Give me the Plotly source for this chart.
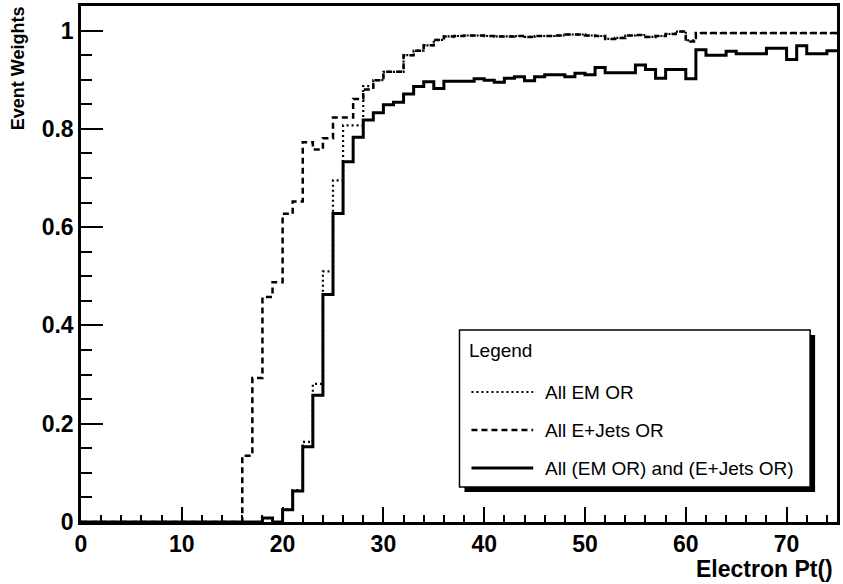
import plotly.graph_objects as go

# ---------------- data ----------------
pt_edges = list(range(0, 76))  # 1 GeV bins from 0 to 75

em_or = [0, 0, 0, 0, 0, 0, 0, 0, 0, 0,
         0, 0, 0, 0, 0, 0, 0, 0, 0.008, 0,
         0.025, 0.065, 0.163, 0.281, 0.510, 0.695, 0.807, 0.807, 0.887, 0.899,
         0.916, 0.916, 0.950, 0.959, 0.970, 0.981, 0.988, 0.989, 0.990, 0.990,
         0.989, 0.988, 0.988, 0.989, 0.987, 0.989, 0.989, 0.990, 0.992, 0.992,
         0.990, 0.989, 0.983, 0.985, 0.990, 0.991, 0.987, 0.989, 0.993, 0.998,
         0.980, 0.995, 0.995, 0.995, 0.995, 0.995, 0.995, 0.995, 0.995, 0.995,
         0.995, 0.995, 0.995, 0.995, 0.995]

ejets_or = [0, 0, 0, 0, 0, 0, 0, 0, 0, 0,
            0, 0, 0, 0, 0, 0, 0.135, 0.293, 0.458, 0.488,
            0.627, 0.652, 0.773, 0.758, 0.781, 0.823, 0.823, 0.861, 0.880, 0.899,
            0.916, 0.916, 0.950, 0.959, 0.970, 0.981, 0.988, 0.989, 0.990, 0.990,
            0.989, 0.988, 0.988, 0.989, 0.987, 0.989, 0.989, 0.990, 0.992, 0.992,
            0.990, 0.989, 0.983, 0.985, 0.990, 0.991, 0.987, 0.989, 0.993, 0.998,
            0.978, 0.995, 0.995, 0.995, 0.995, 0.995, 0.995, 0.995, 0.995, 0.995,
            0.995, 0.995, 0.995, 0.995, 0.995]

both_or = [0, 0, 0, 0, 0, 0, 0, 0, 0, 0,
           0, 0, 0, 0, 0, 0, 0, 0, 0.008, 0,
           0.025, 0.063, 0.153, 0.258, 0.463, 0.628, 0.733, 0.783, 0.818, 0.833,
           0.849, 0.854, 0.871, 0.886, 0.896, 0.882, 0.897, 0.897, 0.897, 0.902,
           0.899, 0.895, 0.903, 0.906, 0.898, 0.906, 0.910, 0.910, 0.906, 0.913,
           0.910, 0.925, 0.914, 0.914, 0.914, 0.930, 0.921, 0.903, 0.921, 0.921,
           0.902, 0.961, 0.950, 0.950, 0.958, 0.953, 0.953, 0.953, 0.964, 0.964,
           0.941, 0.969, 0.953, 0.953, 0.959]

series_names = ["All EM OR", "All E+Jets OR", "All (EM OR) and (E+Jets OR)"]
x_title = "Electron Pt()"
y_title = "Event Weights"
legend_title = "Legend"

# ---------------- layout helpers ----------------
W, H = 843, 584
L, R, T, B = 81, 3, 6, 62
PW, PH = W - L - R, H - T - B


def px(xp):
    return (xp - L) / PW


def py(yp):
    return (H - B - yp) / PH


FONT = "Liberation Sans, Arial, Helvetica, sans-serif"

fig = go.Figure()


def step_trace(vals, name, dash, width):
    return go.Scatter(
        x=pt_edges, y=list(vals) + [vals[-1]], mode="lines", name=name,
        line=dict(shape="hv", color="black", width=width, dash=dash),
        showlegend=False, hoverinfo="skip")


fig.add_trace(step_trace(ejets_or, series_names[1], "6px,4px", 2.5))
fig.add_trace(step_trace(em_or, series_names[0], "2px,3px", 2.2))
fig.add_trace(step_trace(both_or, series_names[2], "solid", 3))

axis_common = dict(
    showgrid=False, zeroline=False, showline=True, linecolor="black",
    linewidth=2.5, mirror=True, ticks="inside", tickcolor="black",
    tickwidth=2, tickfont=dict(family=FONT, size=23, color="black", weight="bold"),
)

fig.update_xaxes(range=[0, 75], dtick=10, tick0=0, ticklen=15,
                 minor=dict(dtick=2, ticklen=7, ticks="inside", tickcolor="black", tickwidth=1.5),
                 **axis_common)
fig.update_yaxes(range=[0, 1.05], dtick=0.2, tick0=0, ticklen=22,
                 minor=dict(dtick=0.05, ticklen=11, ticks="inside", tickcolor="black", tickwidth=1.5),
                 **axis_common)

shapes = []
annotations = []

# axis titles (ROOT style: right / top aligned)
annotations.append(dict(text=x_title, xref="paper", yref="paper", x=px(838), y=py(569),
                        xanchor="right", yanchor="middle", showarrow=False,
                        font=dict(family=FONT, size=23, color="black", weight="bold")))
annotations.append(dict(text=y_title, xref="paper", yref="paper", x=px(18), y=py(4),
                        xanchor="center", yanchor="top", textangle=-90, showarrow=False,
                        font=dict(family=FONT, size=18, color="black", weight="bold")))

# legend box with shadow
shapes.append(dict(type="rect", xref="paper", yref="paper", x0=px(466), x1=px(818),
                   y0=py(492), y1=py(335), fillcolor="black", line=dict(width=0)))
shapes.append(dict(type="rect", xref="paper", yref="paper", x0=px(461), x1=px(813),
                   y0=py(487), y1=py(330), fillcolor="white", line=dict(color="black", width=1.5)))
annotations.append(dict(text=legend_title, xref="paper", yref="paper", x=px(469), y=py(350),
                        xanchor="left", yanchor="middle", showarrow=False,
                        font=dict(family=FONT, size=19, color="black")))
legend_rows = [(392, "2px,3px", 2.2), (430, "6px,4px", 2.5), (468, "solid", 3)]
for name, (yrow, dash, lw) in zip(series_names, legend_rows):
    shapes.append(dict(type="line", xref="paper", yref="paper", x0=px(473), x1=px(535),
                       y0=py(yrow), y1=py(yrow), line=dict(color="black", width=lw, dash=dash)))
    annotations.append(dict(text=name, xref="paper", yref="paper", x=px(545), y=py(yrow),
                            xanchor="left", yanchor="middle", showarrow=False,
                            font=dict(family=FONT, size=19, color="black")))

fig.update_layout(
    width=W, height=H, margin=dict(l=L, r=R, t=T, b=B),
    paper_bgcolor="white", plot_bgcolor="white",
    showlegend=False, shapes=shapes, annotations=annotations,
    font=dict(family=FONT, color="black"),
)

fig.write_html("out.html")
